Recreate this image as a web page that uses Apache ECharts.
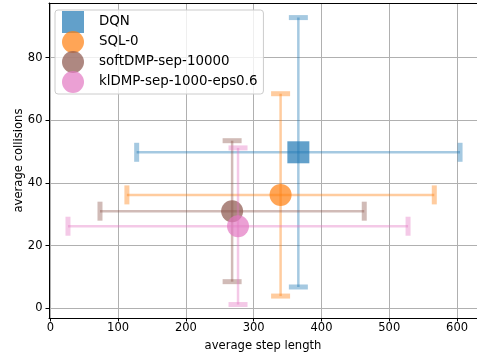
<!DOCTYPE html>
<html><head><meta charset="utf-8">
<script src="https://cdn.jsdelivr.net/npm/echarts@6/dist/echarts.min.js"></script>
<style>html,body{margin:0;padding:0;background:#fff}#c{width:477px;height:358px}</style>
</head><body><div id="c"></div>
<script>
const methods = ['DQN', 'SQL-0', 'softDMP-sep-10000', 'klDMP-sep-1000-eps0.6'];
const stepMean = [365.9, 339.7, 268.2, 276.9];
const stepStd = [238.5, 226.7, 194.9, 250.8];
const collMean = [49.8, 36.2, 31.0, 26.2];
const collStd = [43.0, 32.3, 22.5, 25.0];
const colors = ['#1f77b4', '#ff7f0e', '#8c564b', '#e377c2'];
const symbols = ['rect', 'circle', 'circle', 'circle'];
const xTicks = [0, 100, 200, 300, 400, 500, 600];
const yTicks = [0, 20, 40, 60, 80];

const FONT = 'DejaVu Sans';
const X_MIN = -1.9, X_MAX = 629.4;
const series = [];
methods.forEach((m, i) => {
  series.push({
    name: m,
    type: 'custom',
    z: 2 + i * 2,
    silent: true,
    data: [[stepMean[i], collMean[i], stepStd[i], collStd[i]]],
    renderItem: function (params, api) {
      const xm = api.value(0), ym = api.value(1), xs = api.value(2), ys = api.value(3);
      const l = api.coord([xm - xs, ym]);
      const r = api.coord([xm + xs, ym]);
      const t = api.coord([xm, ym + ys]);
      const b = api.coord([xm, ym - ys]);
      const st = { stroke: colors[i], lineWidth: 2.5, opacity: 0.4 };
      const cap = { stroke: colors[i], lineWidth: 5, opacity: 0.4 };
      const h = 9.5;
      return {
        type: 'group',
        children: [
          { type: 'line', shape: { x1: l[0], y1: l[1], x2: r[0], y2: r[1] }, style: st },
          { type: 'line', shape: { x1: b[0], y1: b[1], x2: t[0], y2: t[1] }, style: st },
          { type: 'line', shape: { x1: l[0], y1: l[1] - h, x2: l[0], y2: l[1] + h }, style: cap },
          { type: 'line', shape: { x1: r[0], y1: r[1] - h, x2: r[0], y2: r[1] + h }, style: cap },
          { type: 'line', shape: { x1: t[0] - h, y1: t[1], x2: t[0] + h, y2: t[1] }, style: cap },
          { type: 'line', shape: { x1: b[0] - h, y1: b[1], x2: b[0] + h, y2: b[1] }, style: cap }
        ]
      };
    }
  });
  series.push({
    name: m,
    type: 'scatter',
    z: 3 + i * 2,
    symbol: symbols[i],
    symbolSize: 22,
    itemStyle: { color: colors[i], opacity: 0.7 },
    emphasis: { disabled: true },
    data: [[stepMean[i], collMean[i]]]
  });
});

const chart = echarts.init(document.getElementById('c'), null, { renderer: 'canvas' });
chart.setOption({
  animation: false,
  backgroundColor: '#fff',
  textStyle: { fontFamily: FONT },
  grid: { left: 49, right: 0, top: 3, bottom: 40, show: false, containLabel: false, outerBoundsMode: 'none' },
  xAxis: [{
    type: 'value', min: X_MIN, max: X_MAX,
    name: 'average step length', nameLocation: 'middle', nameGap: 22, nameMoveOverlap: false,
    nameTextStyle: { fontFamily: FONT, fontSize: 11.6, color: '#000' },
    axisLine: { show: true, onZero: false, lineStyle: { color: '#000', width: 1 } },
    axisTick: { show: true, length: 3.5, lineStyle: { color: '#000' }, customValues: xTicks },
    axisLabel: { fontFamily: FONT, fontSize: 11.5, color: '#000', margin: 4.5, customValues: xTicks },
    splitLine: { show: true, lineStyle: { color: '#b0b0b0', width: 1 } }
  }, {
    type: 'value', position: 'top', min: X_MIN, max: X_MAX,
    axisLine: { show: true, onZero: false, lineStyle: { color: '#000', width: 1 } },
    axisTick: { show: false }, axisLabel: { show: false }, splitLine: { show: false }
  }],
  yAxis: {
    type: 'value', min: -3.1, max: 97.46,
    name: 'average collisions', nameLocation: 'middle', nameGap: 24, nameMoveOverlap: false,
    nameTextStyle: { fontFamily: FONT, fontSize: 11.6, color: '#000' },
    axisLine: { show: true, onZero: false, lineStyle: { color: '#000', width: 1 } },
    axisTick: { show: true, length: 3.5, lineStyle: { color: '#000' }, customValues: yTicks },
    axisLabel: { fontFamily: FONT, fontSize: 11.5, color: '#000', margin: 6.5, customValues: yTicks },
    splitLine: { show: true, lineStyle: { color: '#b0b0b0', width: 1 } }
  },
  legend: {
    left: 55, top: 10, orient: 'vertical',
    itemWidth: 22, itemHeight: 22, itemGap: -2,
    padding: [1, 6, 1, 7],
    backgroundColor: 'rgba(255,255,255,0.8)',
    borderColor: '#cccccc', borderWidth: 1, borderRadius: 3,
    textStyle: { fontFamily: FONT, fontSize: 13.4, color: '#000', padding: [0, 0, 0, 10] },
    selectedMode: false,
    data: methods.map((m, i) => ({ name: m, icon: symbols[i], itemStyle: { color: colors[i], opacity: 0.7 } }))
  },
  series: series
});
</script></body></html>
